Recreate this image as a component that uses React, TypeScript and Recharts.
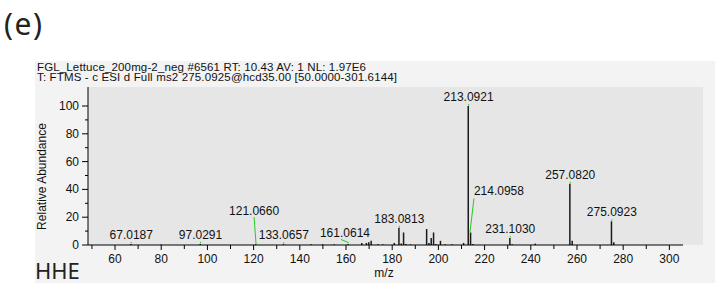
import { ComposedChart, Bar, Scatter, XAxis, YAxis } from 'recharts';

// spectrum peaks (m/z, relative abundance)
const peakMz = [
  67.0187, 80.02, 97.0291, 121.066, 133.0657, 145.05, 150.06, 155.07, 161.0614,
  167.0, 169.0, 170.0, 171.05, 174.06, 176.07, 181.07, 183.0813, 184.08, 185.09,
  186.09, 188.08, 195.07, 196.08, 197.06, 198.07, 199.07, 201.06, 203.07, 206.08,
  211.08, 213.0921, 214.0958, 215.1, 231.103, 232.1, 242.1, 257.082, 258.09,
  275.0923, 276.1,
];
const peakAbundance = [
  0.8, 0.3, 0.8, 0.6, 0.6, 0.5, 0.5, 0.5, 0.8,
  1.5, 1.5, 2.0, 3.0, 0.5, 0.5, 1.5, 12.4, 1.0, 9.0,
  0.8, 0.5, 11.5, 1.5, 5.0, 9.0, 0.8, 3.0, 0.5, 0.5,
  1.5, 100, 9.0, 0.8, 5.0, 0.5, 1.0, 44, 3.0,
  17, 2.0,
];

// annotated peaks
const peakLabels = [
  '67.0187', '97.0291', '121.0660', '133.0657', '161.0614', '183.0813',
  '213.0921', '214.0958', '231.1030', '257.0820', '275.0923',
];

const xTicks = [50, 60, 70, 80, 90, 100, 110, 120, 130, 140, 150, 160, 170, 180, 190, 200, 210, 220, 230, 240, 250, 260, 270, 280, 290, 300];
const yTicks = [0, 10, 20, 30, 40, 50, 60, 70, 80, 90, 100];

const peaks = peakMz.map((mz, i) => ({ mz, abundance: peakAbundance[i] }));
const labeled = peakLabels.map((text) => {
  const mz = Number(text);
  const p = peaks.find((q) => Math.abs(q.mz - mz) < 0.01);
  return { mz, abundance: p ? p.abundance : 0, text };
});

// label placement relative to the peak top (px), leader end point
const labelOffsets: Record<string, { dx: number; dy: number; lx?: number; ly?: number; sx?: number; sy?: number }> = {
  '121.0660': { dx: -2, dy: -29, sx: 0, sy: 0, lx: -2, ly: -27 },
  '161.0614': { dx: -3.5, dy: -6.5, sx: 0.5, sy: -1, lx: -7.5, ly: -4.5 },
  '214.0958': { dx: 28, dy: -37.5, sx: -1, sy: 0, lx: 3, ly: -34 },
};

const font = "'Liberation Sans', Arial, sans-serif";

const PeakLabel = (props: any) => {
  const { cx, cy, payload } = props;
  if (cx == null || cy == null) return null;
  const off = labelOffsets[payload.text];
  const dx = off ? off.dx : 0;
  const dy = off ? off.dy : -5;
  return (
    <g>
      {off ? (
        <line x1={cx + (off.sx || 0)} y1={cy + (off.sy || 0)} x2={cx + (off.lx || 0)} y2={cy + (off.ly || 0)} stroke="#22cc22" strokeWidth={1} />
      ) : (
        <line x1={cx} y1={cy - 0.5} x2={cx} y2={cy - 2} stroke="#22cc22" strokeWidth={1} />
      )}
      <text x={cx + dx} y={cy + dy} textAnchor="middle" fontSize={12} fontFamily={font} fill="#111">
        {payload.text}
      </text>
    </g>
  );
};

const XTick = (props: any) => {
  const { x, y, payload } = props;
  const major = payload.value % 20 === 0;
  return (
    <g>
      <line x1={x} y1={y} x2={x} y2={y + (major ? 5 : 4)} stroke="#000" />
      {major && (
        <text x={x} y={y + 18} textAnchor="middle" fontSize={12} fontFamily={font} fill="#111">
          {payload.value}
        </text>
      )}
    </g>
  );
};

const YTick = (props: any) => {
  const { x, y, payload } = props;
  const major = payload.value % 20 === 0;
  return (
    <g>
      <line x1={x} y1={y} x2={x - (major ? 6 : 3)} y2={y} stroke="#000" />
      {major && (
        <text x={x - 9} y={y + 4} textAnchor="end" fontSize={12} fontFamily={font} fill="#111">
          {payload.value}
        </text>
      )}
    </g>
  );
};

export default function App() {
  return (
    <div style={{ position: 'absolute', left: 0, top: 0, width: 715, height: 283, background: '#fff', overflow: 'hidden' }}>
      {/* frame backgrounds */}
      <div style={{ position: 'absolute', left: 35, top: 61, width: 680, height: 222, background: '#f3f3f3' }} />
      <div style={{ position: 'absolute', left: 88, top: 87, width: 615, height: 158, background: '#e6e6e6' }} />

      <div style={{ position: 'absolute', left: 0, top: 0 }}>
        <ComposedChart
          width={715}
          height={283}
          data={peaks}
          margin={{ top: 87, right: 32, bottom: 8, left: 38 }}
        >
          <XAxis
            dataKey="mz"
            type="number"
            domain={[48.3, 305.9]}
            ticks={xTicks}
            interval={0}
            tickSize={0}
            tickMargin={0}
            tickLine={false}
            tick={<XTick />}
            height={30}
            stroke="#000"
            allowDataOverflow
          />
          <YAxis
            type="number"
            domain={[0, 113.67]}
            ticks={yTicks}
            interval={0}
            tickSize={0}
            tickMargin={0}
            tickLine={false}
            tick={<YTick />}
            width={50}
            stroke="#000"
            allowDataOverflow
          />
          <Bar dataKey="abundance" barSize={1.5} fill="#1a1a1a" isAnimationActive={false} />
          <Scatter data={labeled} dataKey="abundance" shape={<PeakLabel />} isAnimationActive={false} />
        </ComposedChart>
      </div>

      <svg width={715} height={283} style={{ position: 'absolute', left: 0, top: 0, pointerEvents: 'none' }}>
        <text x={4} y={35} fontSize={30} letterSpacing={1.5} fontFamily="'Noto Sans', sans-serif" fill="#222">(e)</text>
        <text x={37} y={70.5} fontSize={11.5} textLength={329} lengthAdjust="spacing" fontFamily={font} fill="#111">
          FGL_Lettuce_200mg-2_neg #6561 RT: 10.43 AV: 1 NL: 1.97E6
        </text>
        <text x={37} y={80.5} fontSize={11.5} textLength={360} lengthAdjust="spacing" fontFamily={font} fill="#111">
          T: FTMS - c ESI d Full ms2 275.0925@hcd35.00 [50.0000-301.6144]
        </text>
        <text x={46} y={176.5} transform="rotate(-90 46 176.5)" textAnchor="middle" fontSize={12} fontFamily={font} fill="#111">
          Relative Abundance
        </text>
        <text x={384} y={277} textAnchor="middle" fontSize={12} fontFamily={font} fill="#111">m/z</text>
        <text x={35} y={278.5} fontSize={22} fontFamily="'Noto Sans', sans-serif" fill="#222">HHE</text>
      </svg>
    </div>
  );
}
